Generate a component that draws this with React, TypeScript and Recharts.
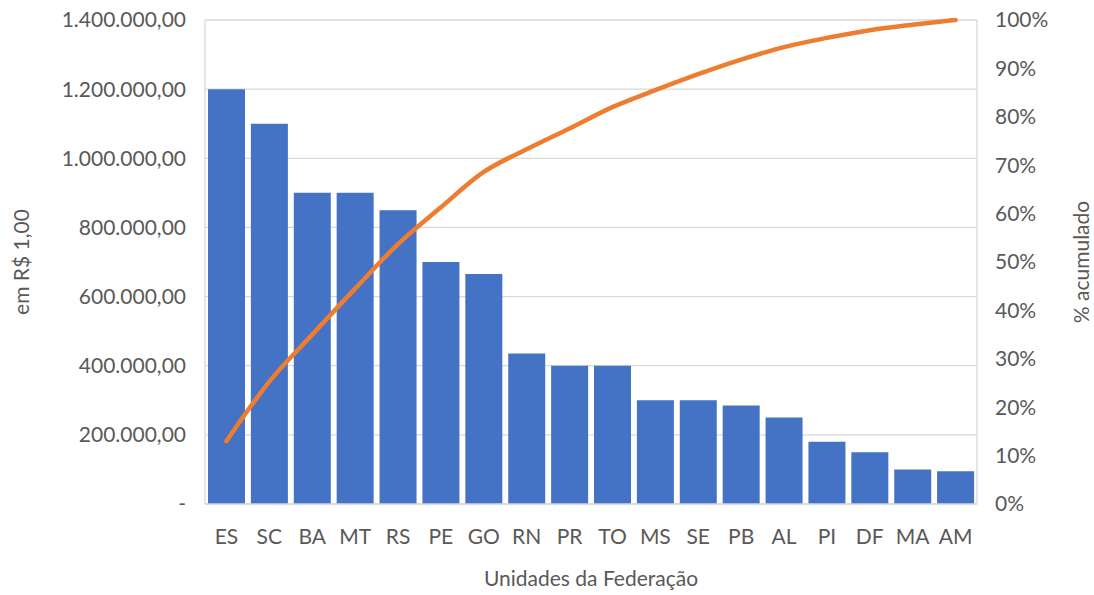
import { ComposedChart, Bar, Line, XAxis, YAxis, CartesianGrid } from 'recharts';

// Unidades da Federação, em ordem decrescente de valor
const STATES = ['ES', 'SC', 'BA', 'MT', 'RS', 'PE', 'GO', 'RN', 'PR', 'TO', 'MS', 'SE', 'PB', 'AL', 'PI', 'DF', 'MA', 'AM'];
const VALUES = [1200000, 1100000, 900000, 900000, 850000, 700000, 665000, 435000, 400000, 400000, 300000, 300000, 285000, 250000, 180000, 150000, 100000, 95000];
const CUMULATIVE = [13, 25.3, 35, 44.5, 53.7, 61.3, 68.6, 73.3, 77.6, 82, 85.5, 88.8, 91.8, 94.4, 96.3, 97.9, 99, 100];

const LEFT_TICKS = [0, 200000, 400000, 600000, 800000, 1000000, 1200000, 1400000];
const RIGHT_TICKS = [0, 10, 20, 30, 40, 50, 60, 70, 80, 90, 100];

const data = STATES.map((uf, i) => ({ uf, valor: VALUES[i], acumulado: CUMULATIVE[i] }));

const TEXT = '#595959';
const GRID = '#d9d9d9';
const FONT = 'Lato, "Open Sans", sans-serif';
const tickStyle = { fontSize: 21, fill: TEXT, fontFamily: FONT };

function formatBRL(v: number) {
  if (v === 0) return '-';
  const s = Math.round(v).toString().replace(/\B(?=(\d{3})+(?!\d))/g, '.');
  return `${s},00`;
}

export default function App() {
  return (
    <div style={{ position: 'absolute', left: 0, top: 0, width: 1094, height: 595, background: '#fff' }}>
      <ComposedChart width={1094} height={595} data={data} margin={{ top: 20, right: 0, bottom: 0, left: 0 }} barCategoryGap={3}>
        <CartesianGrid yAxisId="left" vertical={false} stroke={GRID} strokeWidth={1.3} />
        <XAxis
          dataKey="uf"
          height={91}
          interval={0}
          tickLine={false}
          tickSize={0}
          tickMargin={25}
          axisLine={{ stroke: GRID, strokeWidth: 1.3 }}
          tick={tickStyle}
          label={{ value: 'Unidades da Federação', position: 'insideBottom', offset: 9, style: { fontSize: 21, fill: TEXT, fontFamily: FONT } }}
        />
        <YAxis
          yAxisId="left"
          width={205}
          domain={[0, 1400000]}
          ticks={LEFT_TICKS}
          tickFormatter={formatBRL}
          tickLine={false}
          tickSize={0}
          tickMargin={19}
          axisLine={{ stroke: GRID, strokeWidth: 1.3 }}
          tick={tickStyle}
          label={{ value: 'em R$ 1,00', angle: -90, position: 'insideLeft', offset: 22, style: { fontSize: 21, fill: TEXT, fontFamily: FONT, textAnchor: 'middle' } }}
        />
        <YAxis
          yAxisId="right"
          orientation="right"
          width={117}
          domain={[0, 100]}
          ticks={RIGHT_TICKS}
          tickFormatter={v => `${v}%`}
          tickLine={false}
          tickSize={0}
          tickMargin={18}
          axisLine={{ stroke: GRID, strokeWidth: 1.3 }}
          tick={tickStyle}
          label={{ value: '% acumulado', angle: -90, position: 'insideRight', offset: 12, style: { fontSize: 21, fill: TEXT, fontFamily: FONT, textAnchor: 'middle' } }}
        />
        <Bar yAxisId="left" dataKey="valor" fill="#4472C4" isAnimationActive={false} />
        <Line
          yAxisId="right"
          type="monotone"
          dataKey="acumulado"
          stroke="#ED7D31"
          strokeWidth={4.5}
          strokeLinecap="round"
          dot={false}
          activeDot={false}
          isAnimationActive={false}
        />
      </ComposedChart>
    </div>
  );
}
